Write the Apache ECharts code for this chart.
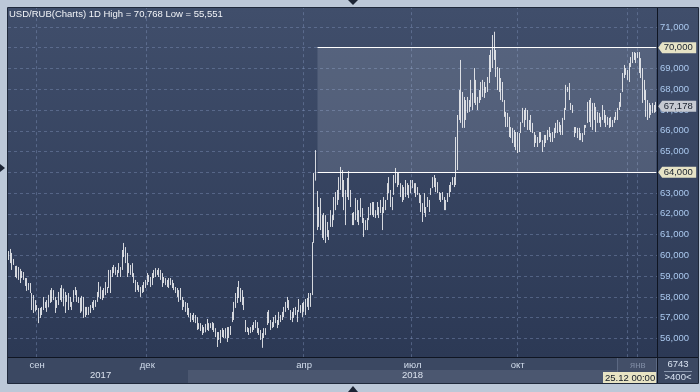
<!DOCTYPE html>
<html><head><meta charset="utf-8">
<script src="https://cdn.jsdelivr.net/npm/echarts@6/dist/echarts.min.js"></script>
<style>html,body{margin:0;padding:0;background:#bcc8d8}#c{width:700px;height:392px}</style>
</head><body><div id="c"></div>
<script>
// Daily highs (USD/RUB), Aug 2017 - Jan 2019
const highs = [
60.21,60.31,60.12,59.83,59.49,59.50,59.44,59.35,59.25,59.20,58.91,58.91,58.67,58.67,58.19,58.09,57.85,57.61,57.47,57.47,
57.52,58.00,57.76,57.85,58.10,58.33,58.43,58.33,58.00,57.85,58.24,58.43,58.57,58.40,58.24,58.09,58.19,58.00,57.76,58.33,
58.48,58.33,58.00,57.95,58.05,58.00,57.52,57.52,57.52,57.61,57.76,57.85,57.85,58.24,58.72,58.50,58.33,58.43,58.72,58.48,
59.30,59.30,59.44,59.54,59.44,59.30,59.63,59.44,60.26,60.60,60.40,60.12,59.63,59.54,59.63,59.15,58.82,58.72,58.57,58.48,
58.57,58.72,58.82,59.15,59.06,58.96,59.15,59.30,59.39,59.30,59.39,59.30,59.15,58.96,58.91,58.82,58.91,58.91,58.82,58.67,
58.48,58.43,58.33,58.43,58.00,57.85,57.76,57.71,57.47,57.23,57.13,57.23,57.13,57.03,
56.74,56.74,56.65,56.55,56.70,56.94,56.74,56.74,56.79,56.74,56.50,56.31,56.31,56.41,56.50,56.41,56.50,56.55,56.55,56.60,
57.28,57.76,58.19,58.48,58.77,58.43,58.33,58.00,56.89,56.55,56.50,56.55,56.65,56.79,56.89,56.79,56.50,56.41,56.26,56.50,
56.50,57.28,57.37,56.89,56.79,57.03,57.13,56.89,57.28,57.13,57.28,57.52,57.76,58.00,57.85,57.37,57.28,57.47,57.52,57.37,
57.90,57.61,57.71,57.76,57.90,57.95,58.19,58.19,60.64,63.97,65.07,63.10,62.33,62.76,61.94,62.04,61.94,61.61,61.22,62.18,
61.94,62.81,63.05,63.15,63.77,64.26,64.11,63.63,63.15,63.73,64.06,63.15,62.04,62.09,62.76,62.67,62.18,62.76,62.28,61.80,
61.70,61.80,62.33,62.52,62.57,62.57,62.18,62.57,62.33,62.67,62.33,62.81,62.67,63.48,63.77,63.15,62.81,63.87,64.21,63.97,
63.97,63.48,63.39,63.29,63.63,63.48,63.39,63.63,63.63,63.48,63.48,63.29,63.00,62.91,62.52,63.00,62.33,62.81,62.67,63.24,
63.77,63.87,63.73,63.53,63.05,63.00,63.05,62.81,62.67,63.00,63.39,63.53,63.77,63.77,65.70,66.76,67.96,69.41,67.87,67.63,
67.48,67.63,67.48,68.45,67.82,69.02,68.45,67.63,67.96,68.35,68.45,68.35,68.11,68.59,69.65,69.89,70.61,70.768,69.89,69.07,
69.02,68.54,68.35,67.48,66.91,66.86,66.67,66.18,66.14,66.04,65.94,65.94,65.89,66.42,67.10,67.00,67.10,67.00,66.52,66.76,
66.38,65.94,65.80,65.70,65.94,65.94,65.55,65.80,65.80,66.04,66.18,65.89,65.94,66.14,66.38,66.52,66.42,66.28,66.62,67.10,
68.21,68.11,68.30,67.34,67.24,66.18,66.18,66.14,66.14,65.89,65.89,66.28,66.28,67.39,67.48,67.58,67.34,67.34,67.15,66.91,
66.86,66.67,67.24,67.00,66.76,66.67,66.62,66.67,66.52,66.67,66.91,67.10,67.39,67.82,68.78,69.17,69.02,68.93,69.26,69.55,
69.79,69.79,69.75,69.79,69.79,69.50,69.02,68.45,67.96,67.48,67.34,67.24,67.34,67.24,67.39
];
// Daily lows
const lows = [
59.78,59.63,59.30,59.54,58.96,58.90,58.82,58.67,58.91,58.82,58.53,58.29,58.33,58.19,57.37,57.23,57.30,57.37,56.74,56.99,
57.13,57.37,57.47,57.28,57.50,57.71,57.76,57.85,57.23,57.47,57.61,57.85,57.76,57.55,57.23,57.76,57.37,57.52,57.37,57.76,
58.09,57.76,57.71,57.23,57.30,56.99,57.03,57.13,57.13,57.23,57.47,57.37,57.52,57.76,58.00,57.90,57.85,57.95,58.09,58.19,
58.43,58.19,58.96,59.15,59.06,58.96,59.15,58.96,59.30,59.92,59.63,58.96,59.15,59.06,58.96,58.67,58.24,58.33,58.24,58.00,
58.19,58.24,58.43,58.57,58.72,58.48,58.57,58.91,58.96,59.06,58.96,58.82,58.48,58.67,58.57,58.48,58.43,58.57,58.43,58.33,
58.19,58.00,57.76,57.85,57.37,57.52,57.28,57.13,57.03,56.79,56.89,56.79,56.74,56.41,
56.45,56.36,56.17,56.26,56.30,56.41,56.36,56.50,56.41,56.31,56.07,55.59,55.93,55.78,56.07,56.02,56.02,55.83,56.02,56.17,
56.79,56.89,57.47,57.71,57.95,57.76,57.61,57.37,56.31,56.31,56.17,56.26,56.31,56.41,56.50,56.26,56.17,55.93,55.551,56.02,
56.17,56.65,56.74,56.41,56.50,56.55,56.74,56.50,56.65,56.79,56.89,57.03,57.28,57.47,57.37,56.89,56.79,56.99,57.13,56.79,
57.28,57.23,57.03,57.28,57.13,57.52,57.37,57.52,58.09,60.60,63.60,61.22,61.37,61.22,60.84,60.74,60.60,60.89,60.74,61.37,
61.37,61.70,62.18,62.43,62.67,63.15,62.81,62.18,61.46,62.81,62.67,62.33,61.46,61.46,61.70,61.61,61.46,61.85,61.56,60.89,
61.22,61.22,61.70,61.94,61.94,61.85,61.80,61.94,61.80,62.04,61.22,62.04,62.18,62.67,63.00,62.33,62.18,62.91,63.48,63.29,
63.39,62.81,62.57,62.67,62.81,62.91,62.76,63.00,63.24,63.00,62.81,62.91,62.52,62.09,61.61,62.04,61.85,62.33,62.09,62.91,
63.24,63.29,63.05,63.00,62.67,62.57,62.67,62.18,62.18,62.57,62.81,63.05,63.39,63.29,63.39,64.11,66.52,66.38,66.14,66.14,
66.52,66.86,66.91,67.15,67.00,67.34,67.24,67.00,67.34,67.48,67.63,67.58,67.82,67.87,68.30,68.83,69.02,69.41,68.59,67.96,
67.87,67.48,67.39,66.67,66.18,66.18,65.70,65.65,65.41,65.22,65.07,64.93,64.98,65.89,66.38,66.18,66.52,66.04,66.04,65.94,
65.89,65.22,65.41,65.22,65.41,65.46,64.98,65.22,65.41,65.55,65.70,65.46,65.46,65.65,65.89,65.89,65.94,65.80,65.80,66.52,
67.00,67.87,67.48,67.00,66.86,65.70,65.89,65.65,65.55,65.55,65.46,65.80,66.14,66.38,66.42,66.18,66.04,66.52,65.94,66.38,
66.38,66.18,66.52,66.38,66.18,66.28,66.14,66.18,66.18,66.38,66.52,66.52,67.00,67.15,67.87,68.54,68.69,68.45,68.35,69.07,
69.26,69.41,69.26,69.50,68.78,68.54,67.34,67.48,66.67,66.52,66.62,66.76,66.86,66.86,66.91
];
const monthTicks = [17, 83, 177, 242, 305, 377];
const monthLabels = ['сен', 'дек', 'апр', 'июл', 'окт', 'янв'];
const yearTicks = [55, 242];
const yearLabels = ['2017', '2018'];
const cursorIndex = 371;
const cursorLabel = '25.12 00:00';
const levelHigh = 70, levelLow = 64, levelStart = 185;
const lastClose = 67.178;
const yMin = 55, yMax = 72, yStep = 1;
const footTop = '6743', footBottom = '>400<';

const N = highs.length;
const cats = highs.map((_, i) => String(i));
const candles = highs.map((h, i) => [lows[i], h, lows[i], h]);
const fmt = v => Number(v).toFixed(3).replace('.', ',');
const FONT = 'Liberation Sans, Arial, sans-serif';
const hi = Math.max(...highs), lo = Math.min(...lows);

const chart = echarts.init(document.getElementById('c'));
const grad = new echarts.graphic.LinearGradient(0, 0, 0, 1, [
  {offset: 0, color: '#404e6b'}, {offset: 1, color: '#2c3955'}]);
const gridColor = 'rgba(130,150,190,0.42)';
const tagPath = 'path://M0,5.5L4,0L38,0L38,11L4,11Z';

chart.setOption({
  backgroundColor: '#bcc8d8',
  animation: false,
  title: {
    text: 'USD/RUB(Charts) 1D High = ' + fmt(hi) + ' Low = ' + fmt(lo),
    left: 9, top: 9, padding: 0,
    textStyle: {color: '#f2f4f8', fontSize: 9.5, fontWeight: 'normal', fontFamily: FONT}
  },
  grid: {left: 8, right: 43, top: 6.16, height: 353.1},
  xAxis: [{
    type: 'category', data: cats, boundaryGap: true, z: 0,
    axisLine: {show: false}, axisTick: {show: false}, axisLabel: {show: false},
    splitLine: {show: true, interval: i => monthTicks.includes(i) || i === cursorIndex,
      lineStyle: {color: gridColor, type: [3, 3], width: 1}}
  }, {
    type: 'category', data: cats, boundaryGap: true, z: 10, position: 'bottom',
    axisLine: {show: false}, axisTick: {show: false}, splitLine: {show: false},
    axisLabel: {interval: i => monthTicks.includes(i), margin: 1, fontSize: 9.5, fontFamily: FONT,
      formatter: (v, i) => { const k = monthTicks.indexOf(i); return k >= 0 ? monthLabels[k] : ''; },
      color: (v, i) => (Number(v) === monthTicks[monthTicks.length - 1] ? '#7f8ca4' : '#d2ddec')}
  }, {
    type: 'category', data: cats, boundaryGap: true, z: 10, position: 'bottom', offset: 10,
    axisLine: {show: false}, axisTick: {show: false}, splitLine: {show: false},
    axisLabel: {interval: i => yearTicks.includes(i), margin: 1, fontSize: 9.5, fontFamily: FONT, color: '#dbe2ee',
      formatter: (v, i) => { const k = yearTicks.indexOf(i); return k >= 0 ? yearLabels[k] : ''; }}
  }],
  yAxis: {
    type: 'value', position: 'right', min: yMin, max: yMax, interval: yStep,
    axisLine: {show: false}, axisTick: {show: false},
    axisLabel: {formatter: fmt, color: '#abc9ef', fontSize: 9.5, fontFamily: FONT, margin: 3,
      showMinLabel: false, showMaxLabel: false},
    splitLine: {show: true, showMinLine: false, showMaxLine: false,
      lineStyle: {color: gridColor, type: [3, 3], width: 1}}
  },
  series: [{
    type: 'candlestick', xAxisIndex: 0, yAxisIndex: 0, data: candles, barWidth: 1.2,
    itemStyle: {color: '#ffffff', color0: '#ffffff', borderColor: '#ffffff', borderColor0: '#ffffff', borderWidth: 0.8},
    markArea: {silent: true, itemStyle: {color: 'rgba(230,235,245,0.15)'},
      data: [[{coord: [levelStart, levelHigh]}, {coord: [N - 1, levelLow]}]]},
    markLine: {silent: true, symbol: ['none', 'none'], label: {show: false},
      lineStyle: {color: '#ffffff', width: 1, type: 'solid'},
      data: [
        [{coord: [levelStart, levelHigh]}, {coord: [N - 1, levelHigh]}],
        [{coord: [levelStart, levelLow]}, {coord: [N - 1, levelLow]}]
      ]},
    markPoint: {silent: true, symbol: tagPath, symbolSize: [38, 11], symbolOffset: [21, 0],
      label: {show: true, position: 'inside', color: '#18202e', fontSize: 9.5, fontFamily: FONT, offset: [1, 0]},
      data: [
        {coord: [N - 1, levelHigh], value: fmt(levelHigh), itemStyle: {color: '#e6e3c6'}},
        {coord: [N - 1, levelLow], value: fmt(levelLow), itemStyle: {color: '#e6e3c6'}},
        {coord: [N - 1, lastClose], value: fmt(lastClose), itemStyle: {color: '#c6cad2'}}
      ]}
  }],
  graphic: [
    {type: 'rect', z: -10, shape: {x: 8, y: 8, width: 690, height: 349}, style: {fill: grad}},
    {type: 'rect', z: 5, shape: {x: 0, y: 0, width: 700, height: 8}, style: {fill: '#bcc8d8'}},
    {type: 'rect', z: 5, shape: {x: 8, y: 357, width: 690, height: 26}, style: {fill: '#3b4862'}},
    {type: 'rect', z: 5, shape: {x: 188, y: 370, width: 429, height: 13}, style: {fill: '#4b5770'}},
    {type: 'rect', z: 6, shape: {x: 617.5, y: 357.5, width: 39, height: 25}, style: {fill: '#434f68', stroke: '#5b6882', lineWidth: 1}},
    {type: 'line', z: 8, shape: {x1: 8, y1: 357.5, x2: 698, y2: 357.5}, style: {stroke: '#0f1522', lineWidth: 1}},
    {type: 'line', z: 8, shape: {x1: 657.5, y1: 8, x2: 657.5, y2: 383}, style: {stroke: '#0f1522', lineWidth: 1}},
    {type: 'rect', z: 8, shape: {x: 7.5, y: 7.5, width: 691, height: 376}, style: {fill: 'none', stroke: '#1f293b', lineWidth: 1}},
    {type: 'line', z: 12, shape: {x1: 664, y1: 371.5, x2: 692, y2: 371.5}, style: {stroke: '#8a97ad', lineWidth: 1}},
    {type: 'text', z: 12, x: 678, y: 364, style: {text: footTop, fill: '#d8e2f0', font: '9.5px ' + FONT, align: 'center', verticalAlign: 'middle'}},
    {type: 'text', z: 12, x: 678, y: 377, style: {text: footBottom, fill: '#d8e2f0', font: '9.5px ' + FONT, align: 'center', verticalAlign: 'middle'}},
    {type: 'text', z: 12, x: 603, y: 372, style: {text: cursorLabel, fill: '#121a26', font: '9.5px ' + FONT, backgroundColor: '#e8e4c4', padding: [1, 1, 0, 2]}},
    {type: 'polygon', z: 9, shape: {points: [[348, 0], [358, 0], [353, 5]]}, style: {fill: '#1c2434'}},
    {type: 'polygon', z: 9, shape: {points: [[348, 392], [358, 392], [353, 386]]}, style: {fill: '#1c2434'}},
    {type: 'polygon', z: 9, shape: {points: [[0, 164], [0, 172], [5, 168]]}, style: {fill: '#1c2434'}}
  ]
});
</script>
</body></html>
